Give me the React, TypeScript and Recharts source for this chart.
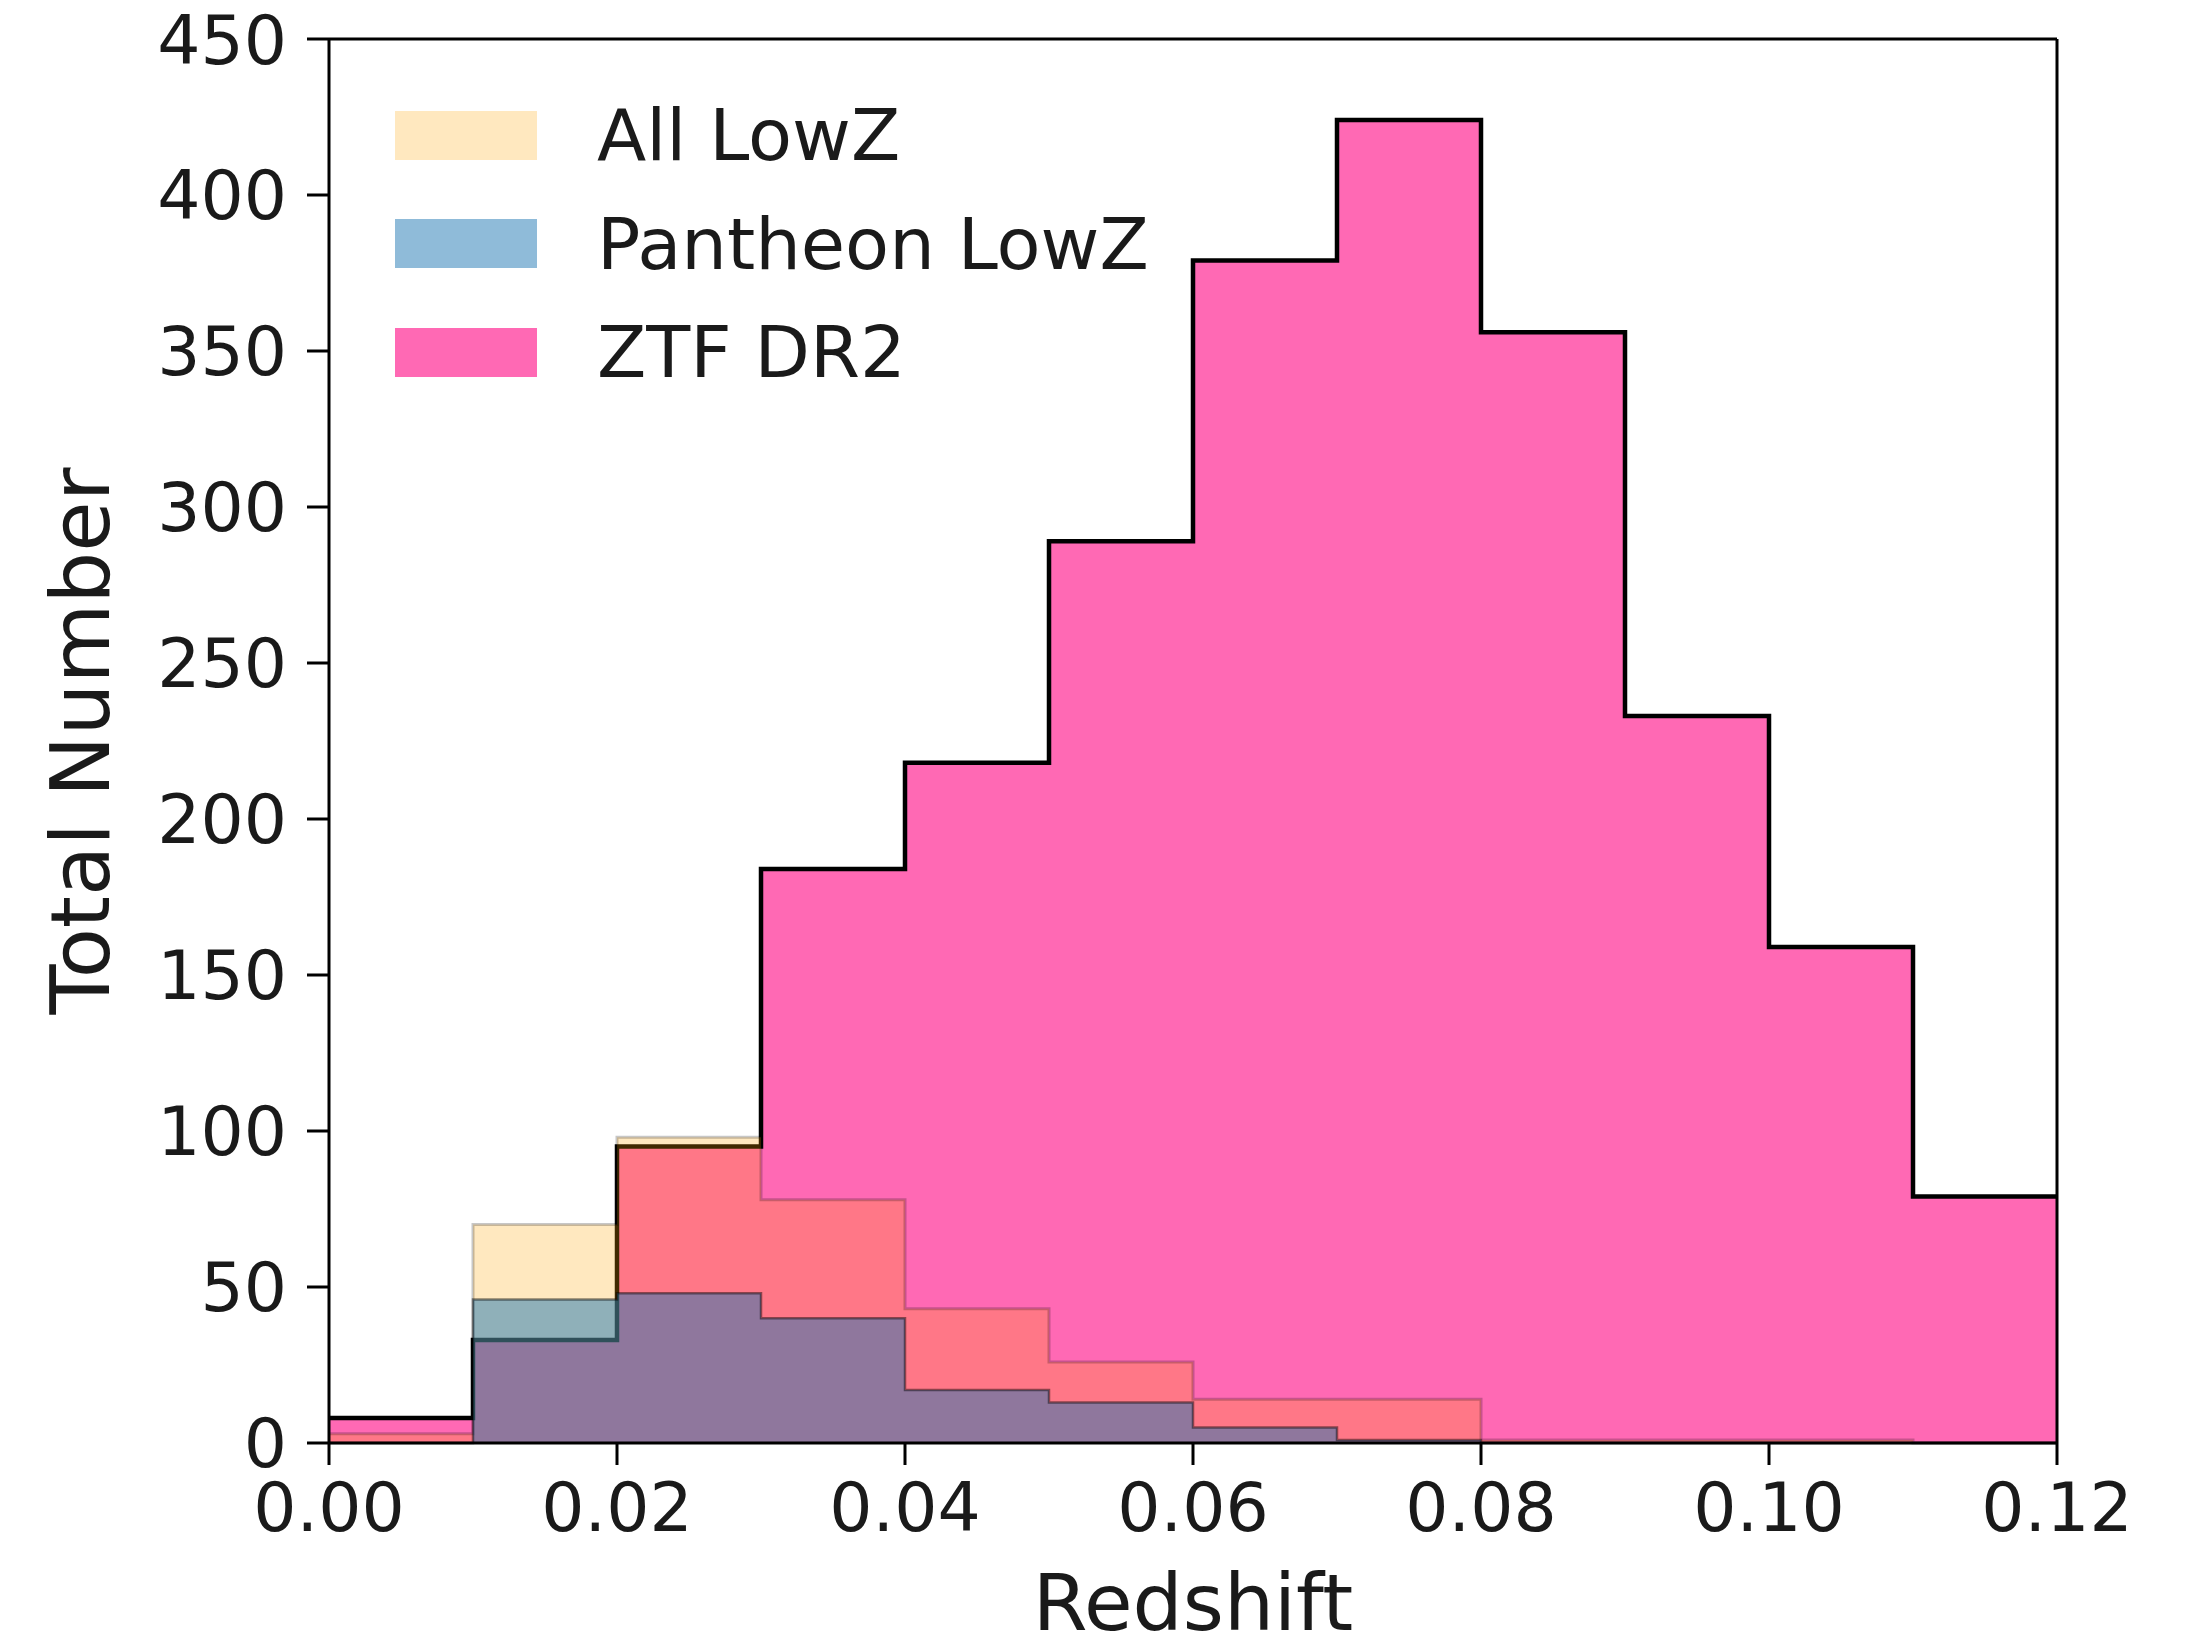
import React from 'react';
import { ComposedChart, Area, XAxis, YAxis, ReferenceLine, Legend } from 'recharts';

// bin edges of the redshift histogram (12 bins of width 0.01)
const binEdges = [0, 0.01, 0.02, 0.03, 0.04, 0.05, 0.06, 0.07, 0.08, 0.09, 0.1, 0.11, 0.12];

// counts per bin
const ztfDr2 = [8, 33, 95, 184, 218, 289, 379, 424, 356, 233, 159, 79];
const allLowZ = [3, 70, 98, 78, 43, 26, 14, 14, 1, 1, 1, 0];
const pantheonLowZ = [0, 46, 48, 40, 17, 13, 5, 1, 0, 0, 0, 0];

const xTicks = [0, 0.02, 0.04, 0.06, 0.08, 0.1, 0.12];
const yTicks = [0, 50, 100, 150, 200, 250, 300, 350, 400, 450];

const FONT = '"DejaVu Sans", sans-serif';
const INK = '#1a1a1a';

// draw order: ZTF first, then the two translucent low-z samples on top
const series = [
  { key: 'ztf', name: 'ZTF DR2', values: ztfDr2, fill: '#ff69b4', fillOpacity: 1, stroke: '#000', strokeOpacity: 1, strokeWidth: 4.5 },
  { key: 'all', name: 'All LowZ', values: allLowZ, fill: '#ffa500', fillOpacity: 0.25, stroke: '#000', strokeOpacity: 0.22, strokeWidth: 3 },
  { key: 'pan', name: 'Pantheon LowZ', values: pantheonLowZ, fill: '#1f77b4', fillOpacity: 0.5, stroke: '#000', strokeOpacity: 0.45, strokeWidth: 2.5 },
];

const legendOrder = ['all', 'pan', 'ztf'];

// last edge repeats the last bin so the step reaches x = 0.12
const rows = binEdges.map((z, i) => {
  const row: Record<string, number> = { z };
  series.forEach((s) => {
    row[s.key] = s.values[Math.min(i, s.values.length - 1)];
  });
  return row;
});

function HistLegend() {
  return (
    <div style={{ display: 'flex', flexDirection: 'column' }}>
      {legendOrder.map((k) => {
        const s = series.find((d) => d.key === k)!;
        return (
          <div key={k} style={{ display: 'flex', alignItems: 'center', height: 108.5 }}>
            <div style={{ width: 142, height: 49, background: s.fill, opacity: s.fillOpacity }} />
            <span style={{ marginLeft: 60, fontFamily: FONT, fontSize: 72, color: INK, lineHeight: 1, whiteSpace: 'nowrap' }}>{s.name}</span>
          </div>
        );
      })}
    </div>
  );
}

export default function App() {
  const tickStyle = { fontSize: 68, fontFamily: FONT, fill: INK };
  const axisLine = { stroke: '#000', strokeWidth: 3 };
  return (
    // cancel the body margin so the chart covers the whole page
    <div style={{ margin: -8, width: 2194, height: 1645 }}>
      <ComposedChart width={2194} height={1645} data={rows} margin={{ top: 39, right: 137, bottom: 12, left: 29 }}>
        {series.map((s) => (
          <Area
            key={s.key}
            dataKey={s.key}
            name={s.name}
            type="stepAfter"
            fill={s.fill}
            fillOpacity={s.fillOpacity}
            stroke={s.stroke}
            strokeOpacity={s.strokeOpacity}
            strokeWidth={s.strokeWidth}
            dot={false}
            activeDot={false}
            isAnimationActive={false}
          />
        ))}
        <XAxis
          dataKey="z"
          type="number"
          domain={[0, 0.12]}
          ticks={xTicks}
          tickFormatter={(v: number) => v.toFixed(2)}
          height={190}
          tickSize={22}
          tickMargin={18}
          axisLine={axisLine}
          tickLine={axisLine}
          tick={tickStyle}
          label={{ value: 'Redshift', position: 'insideBottom', offset: 3, style: { fontSize: 79, fontFamily: FONT, fill: INK } }}
        />
        <YAxis
          type="number"
          domain={[0, 450]}
          ticks={yTicks}
          width={300}
          tickSize={22}
          tickMargin={20}
          axisLine={axisLine}
          tickLine={axisLine}
          tick={tickStyle}
          label={{ value: 'Total Number', angle: -90, position: 'insideLeft', offset: 51, style: { fontSize: 82, fontFamily: FONT, fill: INK, textAnchor: 'middle' } }}
        />
        <ReferenceLine y={450} stroke="#000" strokeWidth={3} />
        <ReferenceLine x={0.12} stroke="#000" strokeWidth={3} />
        <Legend
          layout="vertical"
          align="center"
          verticalAlign="middle"
          content={<HistLegend />}
          wrapperStyle={{ position: 'absolute', left: 395, top: 81, width: 'auto', height: 'auto' }}
        />
      </ComposedChart>
    </div>
  );
}
